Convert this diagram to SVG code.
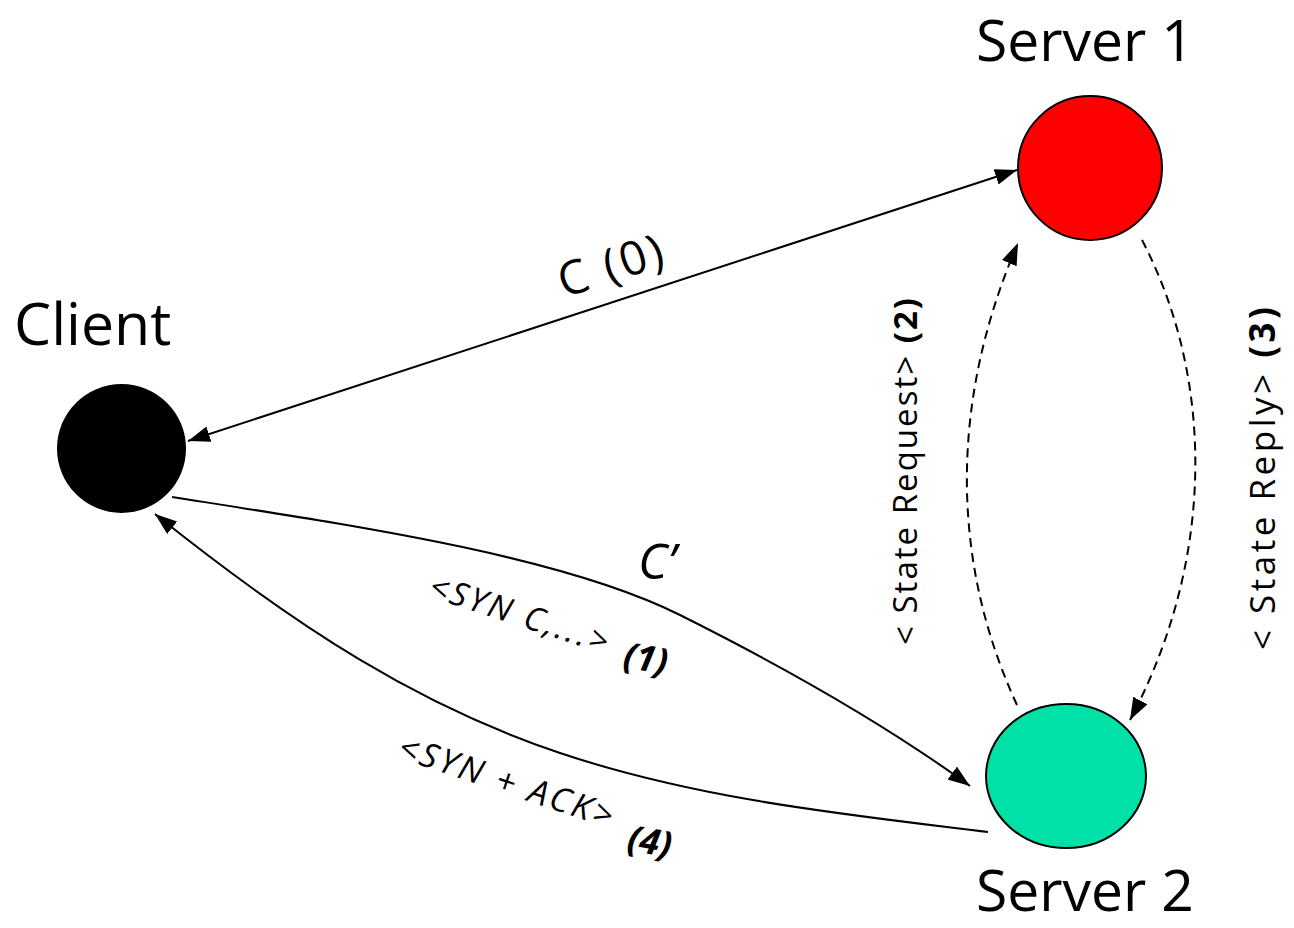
<svg xmlns="http://www.w3.org/2000/svg" width="1294" height="928" viewBox="0 0 1294 928">
<style>
.lbl{font-family:"Open Sans","Liberation Sans",sans-serif;fill:#000}
.big{font-size:59px}
.edge{fill:none;stroke:#000;stroke-width:2}
.dash{stroke-dasharray:9,6}
.node{stroke:#000;stroke-width:2}
</style>
<defs>
<marker id="ah" markerUnits="userSpaceOnUse" markerWidth="24" markerHeight="18" refX="22" refY="8" orient="auto-start-reverse">
<path d="M0,0 L22,8 L0,16 z" fill="#000"/>
</marker>
</defs>
<rect width="1294" height="928" fill="#fff"/>
<g id="connectors">
<line class="edge" x1="188" y1="441" x2="1017" y2="170" marker-start="url(#ah)" marker-end="url(#ah)"/>
<path class="edge" d="M172,497 C350,525 560,555 680,615 S900,735 970,786" marker-end="url(#ah)"/>
<path class="edge" d="M988,832 C850,815 700,800 560,753 S300,630 155,514" marker-end="url(#ah)"/>
<path class="edge dash" d="M1017,705 C950,560 950,400 1018,243" marker-end="url(#ah)"/>
<path class="edge dash" d="M1142,240 C1215,380 1215,560 1130,720" marker-end="url(#ah)"/>
</g>
<g id="client">
<circle cx="121.5" cy="448.5" r="64.5" fill="#000"/>
<text class="lbl big" x="14" y="345">Client</text>
</g>
<g id="server1">
<circle class="node" cx="1090" cy="168" r="72" fill="#ff0000"/>
<text class="lbl" font-size="57" x="976" y="61">Server 1</text>
</g>
<g id="server2">
<ellipse class="node" cx="1066" cy="776" rx="80" ry="72" fill="#00e1a8"/>
<text class="lbl" font-size="57" x="976" y="911">Server 2</text>
</g>
<g id="labels">
<text class="lbl" font-size="47" transform="translate(564,298) rotate(-18)" textLength="108">C (0)</text>
<text class="lbl" font-size="50" font-style="italic" x="638" y="579">C’</text>
<text class="lbl" font-size="33" font-style="italic" transform="translate(427,596) rotate(18)" textLength="186">&lt;SYN C,...&gt;</text>
<text class="lbl" font-size="36" font-style="italic" font-weight="bold" transform="translate(622,667) rotate(10)">(1)</text>
<text class="lbl" font-size="34" font-style="italic" transform="translate(396,757) rotate(18.5)" textLength="224">&lt;SYN + ACK&gt;</text>
<text class="lbl" font-size="36" font-style="italic" font-weight="bold" transform="translate(626,850) rotate(10)">(4)</text>
<text class="lbl" font-size="33" transform="translate(917,645) rotate(-90)" textLength="347">&lt; State Request&gt; <tspan font-weight="bold">(2)</tspan></text>
<text class="lbl" font-size="35" transform="translate(1275,650) rotate(-90)" textLength="343">&lt; State Reply&gt; <tspan font-weight="bold">(3)</tspan></text>
</g>
</svg>
